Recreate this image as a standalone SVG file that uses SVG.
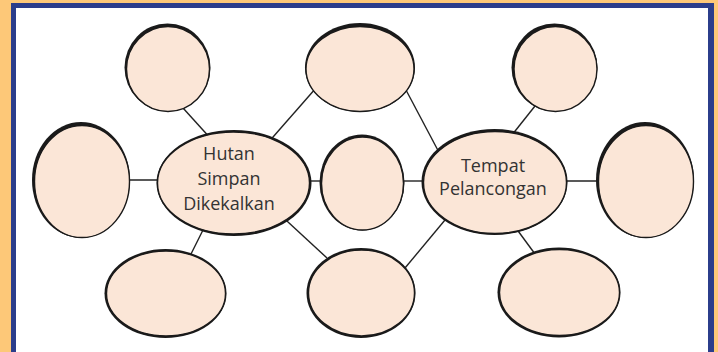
<svg xmlns="http://www.w3.org/2000/svg" width="718" height="352" viewBox="0 0 718 352">
<style>
.sh{fill:#1a1a1a}
.nd{fill:#fbe6d7;stroke:#1a1a1a;stroke-width:1.4}
.ln{stroke:#222;stroke-width:1.4;fill:none}
.t{font-family:"Open Sans","Noto Sans",sans-serif;font-size:18px;fill:#333333;text-anchor:middle}
</style>
<rect x="0" y="0" width="718" height="352" fill="#fdc878"/>
<rect x="11" y="3" width="703" height="352" fill="#2b3d8b"/>
<rect x="16" y="8" width="692" height="350" fill="#ffffff"/>
<g id="connectors">
<line class="ln" x1="183" y1="108" x2="212" y2="140"/>
<line class="ln" x1="266" y1="145" x2="316" y2="88"/>
<line class="ln" x1="208" y1="220" x2="191" y2="254"/>
<line class="ln" x1="275" y1="210" x2="327" y2="258"/>
<line class="ln" x1="442" y1="158" x2="406" y2="90"/>
<line class="ln" x1="508" y1="140" x2="535" y2="106"/>
<line class="ln" x1="450" y1="214" x2="405" y2="268"/>
<line class="ln" x1="510" y1="220" x2="535" y2="254"/>
<line class="ln" x1="128" y1="180" x2="162" y2="180"/>
<line class="ln" x1="306" y1="181" x2="324" y2="181"/>
<line class="ln" x1="400" y1="181" x2="426" y2="181"/>
<line class="ln" x1="565" y1="181" x2="600" y2="181"/>
</g>
<g id="n-topleft"><ellipse class="sh" cx="167.5" cy="67.5" rx="43" ry="44"/><ellipse class="nd" cx="168" cy="69" rx="41.5" ry="42.5"/></g>
<g id="n-topcenter"><ellipse class="sh" cx="360" cy="67.5" rx="55" ry="44.5"/><ellipse class="nd" cx="360" cy="69" rx="54" ry="42.5"/></g>
<g id="n-topright"><ellipse class="sh" cx="554.5" cy="67.5" rx="43" ry="44"/><ellipse class="nd" cx="555.5" cy="69" rx="41.5" ry="42.5"/></g>
<g id="n-left"><ellipse class="sh" cx="81" cy="180" rx="49" ry="58"/><ellipse class="nd" cx="82" cy="181.5" rx="47.5" ry="56"/></g>
<g id="n-hutan"><ellipse class="sh" cx="234" cy="183" rx="77.5" ry="53"/><ellipse class="nd" cx="233.5" cy="183" rx="76" ry="51"/>
<text class="t" x="229" y="160">Hutan</text><text class="t" x="229" y="185">Simpan</text><text class="t" x="229" y="210">Dikekalkan</text></g>
<g id="n-center"><ellipse class="sh" cx="362" cy="182.5" rx="42.5" ry="48"/><ellipse class="nd" cx="362.5" cy="183.5" rx="41" ry="46.5"/></g>
<g id="n-tempat"><ellipse class="sh" cx="494.5" cy="182" rx="73" ry="53"/><ellipse class="nd" cx="495" cy="182.5" rx="71.5" ry="51"/>
<text class="t" x="493" y="172">Tempat</text><text class="t" x="493" y="195">Pelancongan</text></g>
<g id="n-right"><ellipse class="sh" cx="645" cy="180" rx="49" ry="58"/><ellipse class="nd" cx="646" cy="181.5" rx="47.5" ry="56"/></g>
<g id="n-botleft"><ellipse class="sh" cx="165.5" cy="293.5" rx="61" ry="44.5"/><ellipse class="nd" cx="166" cy="293.5" rx="59.5" ry="42.5"/></g>
<g id="n-botcenter"><ellipse class="sh" cx="361" cy="293" rx="54.5" ry="45"/><ellipse class="nd" cx="361.5" cy="293" rx="53" ry="43"/></g>
<g id="n-botright"><ellipse class="sh" cx="559" cy="292.5" rx="61.5" ry="45"/><ellipse class="nd" cx="559.5" cy="292.5" rx="60" ry="43"/></g>
</svg>
